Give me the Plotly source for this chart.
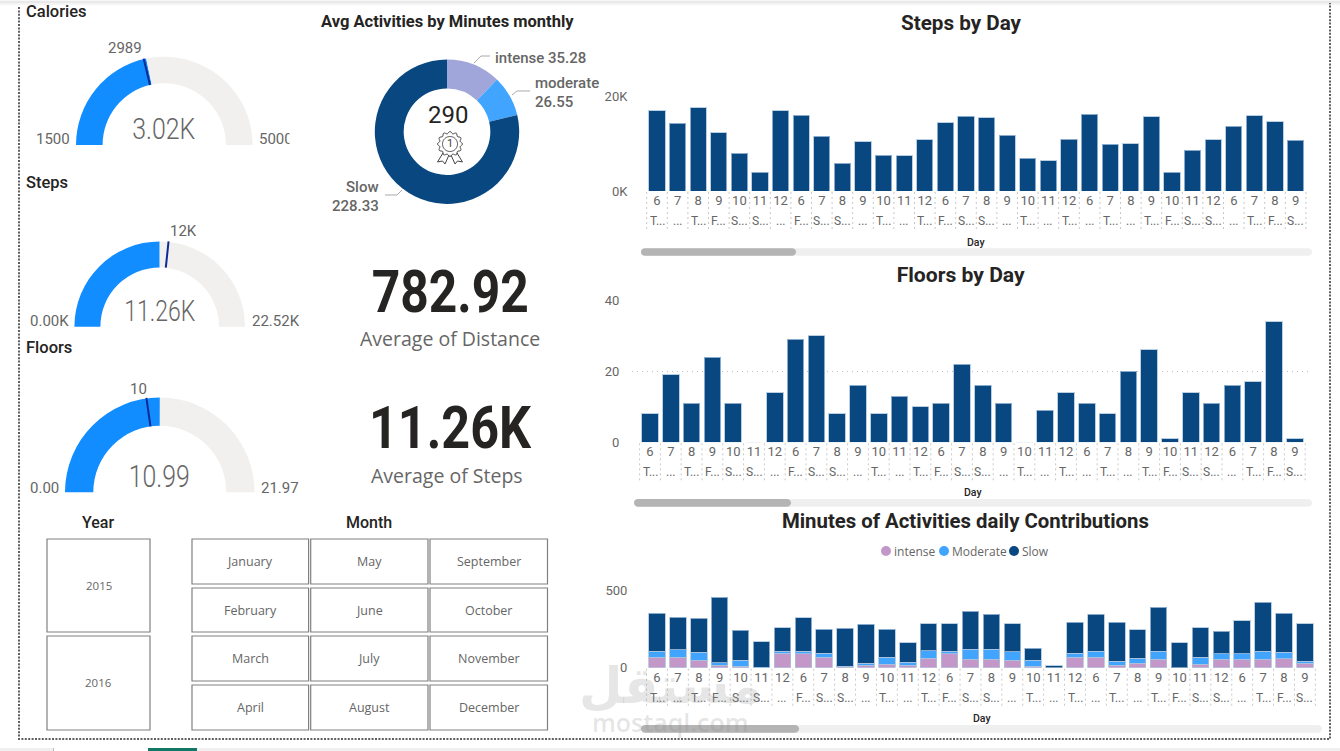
import json
import numpy as np
import plotly.graph_objects as go

# ---------- data ----------
day_numbers = [6,7,8,9,10,11,12,6,7,8,9,10,11,12,6,7,8,9,10,11,12,6,7,8,9,10,11,12,6,7,8,9]
day_names = ["T...","...","T...","F...","S...","S...","...","F...","S...","S...","...","T...","...","T...","F...","S...",
             "S...","...","T...","...","T...","...","T...","...","T...","F...","S...","S...","...","T...","F...","S..."]
steps = [16850,14250,17550,12285,8000,3930,16850,16000,11580,5830,10390,7510,7370,10740,14320,15725,
         15375,11720,6880,6320,10880,16150,9830,9900,15655,4000,8560,10740,13620,15800,14530,10670]
floors = [8,19,11,24,11,0,14,29,30,8,16,8,13,10,11,22,16,11,0,9,14,11,8,20,26,1,14,11,16,17,34,1]
intense = [69,69,48,15,11,0,95,91,67,6,15,24,17,61,89,54,54,50,11,0,67,69,17,30,54,0,24,54,54,54,58,28]
moderate = [37,48,52,17,37,2,11,15,26,4,13,45,17,50,17,65,67,52,39,1,26,39,24,30,52,1,45,37,35,54,41,15]
slow = [249,212,221,424,195,165,154,219,158,247,253,180,128,175,180,249,225,182,76,11,201,240,253,188,286,162,191,147,216,318,253,242]

donut_labels = ["intense", "moderate", "Slow"]
donut_values = [35.28, 26.55, 228.33]
donut_total = "290"

calories_gauge = dict(title="Calories", value=3020, target=2989, low=1500, high=5000,
                      value_text="3.02K", target_text="2989", low_text="1500", high_text="5000")
steps_gauge = dict(title="Steps", value=11260, target=12000, low=0, high=22520,
                   value_text="11.26K", target_text="12K", low_text="0.00K", high_text="22.52K")
floors_gauge = dict(title="Floors", value=10.99, target=10, low=0, high=21.97,
                    value_text="10.99", target_text="10", low_text="0.00", high_text="21.97")

years = ["2015", "2016"]
months = [["January","May","September"],["February","June","October"],
          ["March","July","November"],["April","August","December"]]

# ---------- style ----------
W, H = 1340, 751
NAVY, BLUE, PURPLE, LAV = "#094780", "#41A4FF", "#C497C9", "#A0A6DA"
GAUGE, GAUGE_BG, TARGET = "#118DFF", "#F1F0EE", "#0B2A94"
GREY, DARK = "#666666", "#252423"
DIN, SEGOE = "Roboto", "Open Sans"
PX = lambda x: x / W
PY = lambda y: 1 - y / H

fig = go.Figure()
shapes, notes = [], []
fit_widths = {}   # condensed DIN look: "text|size" -> width in px


def text(x, y, s, size=14, color=GREY, family=DIN, weight=None, anchor="center", ya="middle", fit=None):
    font = dict(size=size, color=color, family=family)
    if weight:
        font["weight"] = weight
    notes.append(dict(x=PX(x), y=PY(y), xref="paper", yref="paper", text=s, showarrow=False,
                      xanchor=anchor, yanchor=ya, font=font, borderpad=0))
    if fit:
        fit_widths[f"{s}|{size}px"] = fit


def rect(x0, y0, x1, y1, fill=None, line=None, lw=1):
    shapes.append(dict(type="rect", xref="paper", yref="paper", x0=PX(x0), x1=PX(x1), y0=PY(y0), y1=PY(y1),
                       fillcolor=fill or "rgba(0,0,0,0)", line=dict(color=line or "rgba(0,0,0,0)", width=lw if line else 0)))


def path(points, color="#aaaaaa", lw=1, fill=None, closed=False, dash=None):
    d = "M " + " L ".join(f"{PX(x):.5f},{PY(y):.5f}" for x, y in points) + (" Z" if closed else "")
    ln = dict(color=color, width=lw)
    if dash:
        ln["dash"] = dash
    shapes.append(dict(type="path", xref="paper", yref="paper", path=d, line=ln, fillcolor=fill or "rgba(0,0,0,0)"))


def pill(x0, x1, y0, y1, fill):
    r = (y1 - y0) / 2
    pts = [(x0 + r - r * np.cos(t), y0 + r - r * np.sin(t)) for t in np.linspace(0, np.pi / 2, 6)]
    pts += [(x1 - r + r * np.sin(t), y0 + r - r * np.cos(t)) for t in np.linspace(0, np.pi, 10)]
    pts += [(x0 + r - r * np.sin(t), y1 - r + r * np.cos(t)) for t in np.linspace(0, np.pi / 2, 6)]
    path(pts, color="rgba(0,0,0,0)", lw=0, fill=fill, closed=True)


# ---------- gauges ----------
def gauge(g, cx, base, R, r, title_y, value_y, value_size, value_fit, target_xy, low_x, high_x, label_y):
    span = g["high"] - g["low"]
    done = g["value"] - g["low"]
    fig.add_trace(go.Pie(values=[done, span - done, span], sort=False, direction="clockwise", rotation=270,
                         hole=r / R, textinfo="none", hoverinfo="skip", showlegend=False,
                         marker=dict(colors=[GAUGE, GAUGE_BG, "rgba(0,0,0,0)"], line=dict(width=0)),
                         domain=dict(x=[PX(cx - R), PX(cx + R)], y=[PY(base + R), PY(base - R)])))
    ang = np.pi * (g["target"] - g["low"]) / span
    path([(cx - (R + 0.5) * np.cos(ang), base - (R + 0.5) * np.sin(ang)),
          (cx - r * np.cos(ang), base - r * np.sin(ang))], color=TARGET, lw=2)
    text(25, title_y, g["title"], 16.5, DARK, DIN, 500, "left")
    text(cx, value_y, g["value_text"], value_size, GREY, DIN, 300, fit=value_fit)
    text(*target_xy, g["target_text"], 15)
    text(low_x, label_y, g["low_text"], 15, anchor="right")
    text(high_x, label_y, g["high_text"], 15, anchor="left")


gauge(calories_gauge, 164.3, 145, 88.3, 61.7, 12, 129, 29, 63, (125, 48), 71, 258, 139)
gauge(steps_gauge, 159.7, 326.7, 85.3, 59.3, 182, 311, 29, 71, (183, 231), 70, 251, 321)
gauge(floors_gauge, 159.8, 492.3, 94.8, 66.5, 347, 476, 32, 61, (138, 389), 60, 260, 488)

# ---------- donut ----------
cx, cy, R = 447, 131.7, 72.2
fig.add_trace(go.Pie(labels=donut_labels, values=donut_values, sort=False, direction="clockwise", rotation=0,
                     hole=0.6, textinfo="none", hoverinfo="skip", showlegend=False,
                     marker=dict(colors=[LAV, BLUE, NAVY], line=dict(width=0)),
                     domain=dict(x=[PX(cx - R), PX(cx + R)], y=[PY(cy + R), PY(cy - R)])))
text(447.5, 21, "Avg Activities by Minutes monthly", 16.5, DARK, DIN, 700)
text(448, 114.5, donut_total, 24, DARK, DIN, 400)
path([(474, 63), (481, 56), (490, 56)])
path([(512, 95), (517, 91), (530, 91)])
path([(402, 190), (397, 195), (385, 195)])
text(494, 58, f"{donut_labels[0]} {donut_values[0]}", 15, GREY, DIN, 500, "left")
text(534, 83, donut_labels[1], 15, GREY, DIN, 500, "left")
text(534, 102, f"{donut_values[1]}", 15, GREY, DIN, 500, "left")
text(380, 187, donut_labels[2], 15, GREY, DIN, 500, "right")
text(380, 206, f"{donut_values[2]}", 15, GREY, DIN, 500, "right")

# rosette icon
ix, iy = 450, 144
th = np.linspace(0, 2 * np.pi, 97)
path([(ix + (11.5 + 1.0 * np.cos(12 * t)) * np.cos(t), iy + (11.5 + 1.0 * np.cos(12 * t)) * np.sin(t)) for t in th],
     color="#444444", lw=1, closed=True)
path([(ix + 7.5 * np.cos(t), iy + 7.5 * np.sin(t)) for t in th], color="#444444", lw=1, closed=True)
path([(443, 153), (437.5, 162), (442.5, 161), (445, 164), (449, 155)], color="#444444", lw=1)
path([(457, 153), (462.5, 162), (457.5, 161), (455, 164), (451, 155)], color="#444444", lw=1)
text(ix, iy, "1", 11, "#444444", DIN)

# ---------- KPI cards ----------
text(450, 291, "782.92", 59, DARK, DIN, 700, fit=157)
text(450, 338, "Average of Distance", 19.5, GREY, SEGOE)
text(450, 428, "11.26K", 59, DARK, DIN, 700, fit=162)
text(447, 475, "Average of Steps", 19.5, GREY, SEGOE)

# ---------- slicers ----------
text(97.5, 522, "Year", 16, DARK, DIN, 500)
text(368.5, 522, "Month", 16, DARK, DIN, 500)
year_rows = [(539, 632), (636, 730)]
for label, (y0, y1) in zip(years, year_rows):
    rect(47, y0, 150, y1, None, "#808080", 1.2)
    text(98.5, (y0 + y1) / 2 - 0.5, label, 11.5, GREY, SEGOE)
month_cols = [(192, 308.6), (310.7, 428), (430, 547.5)]
month_rows = [(539, 584), (588, 632), (636, 681), (685, 730)]
for row, (y0, y1) in zip(months, month_rows):
    for label, (x0, x1) in zip(row, month_cols):
        rect(x0, y0, x1, y1, None, "#808080", 1.2)
        text((x0 + x1) / 2, (y0 + y1) / 2, label, 12.5, GREY, SEGOE)


# ---------- bar charts ----------
def axes(suffix, first, step, left, right, top, base, ymax, ticks, labels, below, ypad):
    x = np.arange(len(day_numbers))
    fig.layout[f"xaxis{suffix}"] = dict(
        domain=[PX(left), PX(right)], range=[(left - first) / step, (right - first) / step],
        anchor=f"y{suffix}", tickmode="array", tickvals=list(x), ticktext=[str(n) for n in day_numbers],
        tickfont=dict(family=DIN, size=13, color=GREY), tickangle=0, automargin=False,
        ticks="", showgrid=False, zeroline=False, showline=False)
    fig.layout[f"yaxis{suffix}"] = dict(
        domain=[PY(base), PY(top)], range=[0, ymax], anchor=f"x{suffix}", tickmode="array", automargin=False,
        tickvals=ticks, ticktext=labels, tickfont=dict(family=DIN, size=13, color=GREY),
        ticks="outside", ticklen=ypad, tickcolor="rgba(0,0,0,0)", showgrid=True, gridcolor="#bdbdbd",
        griddash="1px,4px", gridwidth=1, zeroline=False, showline=False)
    xref = "x" + suffix
    for i, name in enumerate(day_names):
        notes.append(dict(x=i, xref=xref, y=PY(base + 30), yref="paper", text=name, showarrow=False,
                          font=dict(family=DIN, size=12, color=GREY), xanchor="center", yanchor="middle"))
    for i in range(len(day_numbers) + 1):
        shapes.append(dict(type="line", xref=xref, yref="paper", x0=i - 0.5, x1=i - 0.5,
                           y0=PY(base + 1), y1=PY(below), line=dict(color="#c8c8c8", width=1, dash="2px,3px")))
    return x


OUT = dict(color="rgba(170,195,220,0.8)", width=1)
x1 = axes("", 657, 20.6, 640, 1312, 96, 191, 20000, [0, 20000], ["0K", "20K"], 232, 9)
fig.add_trace(go.Bar(x=x1, y=steps, width=0.79, marker=dict(color=NAVY, line=OUT), xaxis="x", yaxis="y",
                     showlegend=False, hoverinfo="skip"))
x2 = axes("2", 650, 20.8, 632, 1309, 300.3, 442.3, 40, [0, 20, 40], ["0", "20", "40"], 483, 9)
fig.add_trace(go.Bar(x=x2, y=floors, width=0.79, marker=dict(color=NAVY, line=OUT), xaxis="x2", yaxis="y2",
                     showlegend=False, hoverinfo="skip"))
x3 = axes("3", 657, 20.9, 640, 1322, 590.7, 667.7, 500, [0, 500], ["0", "500"], 708, 9)
for name, vals, col in [("intense", intense, PURPLE), ("Moderate", moderate, BLUE), ("Slow", slow, NAVY)]:
    fig.add_trace(go.Bar(x=x3, y=vals, name=name, width=0.79, marker=dict(color=col, line=OUT), xaxis="x3",
                         yaxis="y3", showlegend=False, hoverinfo="skip"))

text(961, 23, "Steps by Day", 21, DARK, DIN, 700, fit=120)
text(961, 275, "Floors by Day", 21, DARK, DIN, 700, fit=128)
text(966, 521, "Minutes of Activities daily Contributions", 21, DARK, DIN, 700, fit=367)
for x, y in [(976, 242), (973, 493), (982, 718)]:
    text(x, y, "Day", 10.5, DARK, DIN, 500)

for x, label, col in [(886, "intense", PURPLE), (944, "Moderate", BLUE), (1014, "Slow", NAVY)]:
    shapes.append(dict(type="circle", xref="paper", yref="paper", x0=PX(x - 5), x1=PX(x + 5), y0=PY(556), y1=PY(546),
                       fillcolor=col, line=dict(width=0)))
    text(x + 7, 551.5, label, 12, GREY, SEGOE, anchor="left")

# scrollbars
for x0, x1_, thumb, y0, y1 in [(641, 1312, 796, 248.3, 255.7), (634, 1312, 791, 499, 506.7), (641, 1322, 799, 725, 732.7)]:
    pill(x0, x1_, y0, y1, "#EFEFEF")
    pill(x0, thumb, y0, y1, "#B4B4B4")

# ---------- page furniture ----------
rect(0, 0, W, 1, "#F7F7F7")
rect(0, 1, W, 3, "#E9E9E9")
rect(0, 3, W, 5, "#F4F4F4")
path([(19, 7), (19, 739), (1330, 739), (1330, 3)], color="#5f5f5f", lw=2, dash="2px,1.4px")
rect(0, 748, 53, H, "#F0F0F0")
rect(53, 748, 54, H, "#BBBBBB")
rect(148, 748, 197, H, "#117865")
rect(197, 748, W, H, "#F0F0F0")

# clip of the truncated 5000 label
notes.append(dict(x=PX(289), y=PY(139), xref="paper", yref="paper", text=" ", showarrow=False, xanchor="left",
                  yanchor="middle", width=12, height=22, bgcolor="white", font=dict(size=12)))

# watermark
text(670, 686, "مستقل", 50, "rgba(140,140,140,0.22)", "DejaVu Sans", 700)
text(670, 722, "mostaql.com", 25, "rgba(140,140,140,0.22)", "Open Sans", 600)

fig.update_layout(template="none", width=W, height=H, margin=dict(l=0, r=0, t=0, b=0, pad=0), autosize=False,
                  barmode="stack", paper_bgcolor="white", plot_bgcolor="white", shapes=shapes, annotations=notes,
                  font=dict(family=SEGOE), showlegend=False)

script = """
document.body.style.margin='0';document.body.style.overflow='hidden';
var fit=%s;
document.querySelectorAll('.annotation-text').forEach(function(t){
  var w=fit[t.textContent+'|'+t.style.fontSize];
  if(w){t.setAttribute('textLength',w);t.setAttribute('lengthAdjust','spacingAndGlyphs');}
});
""" % json.dumps(fit_widths)
fig.write_html("out.html", config=dict(displayModeBar=False), post_script=script)
